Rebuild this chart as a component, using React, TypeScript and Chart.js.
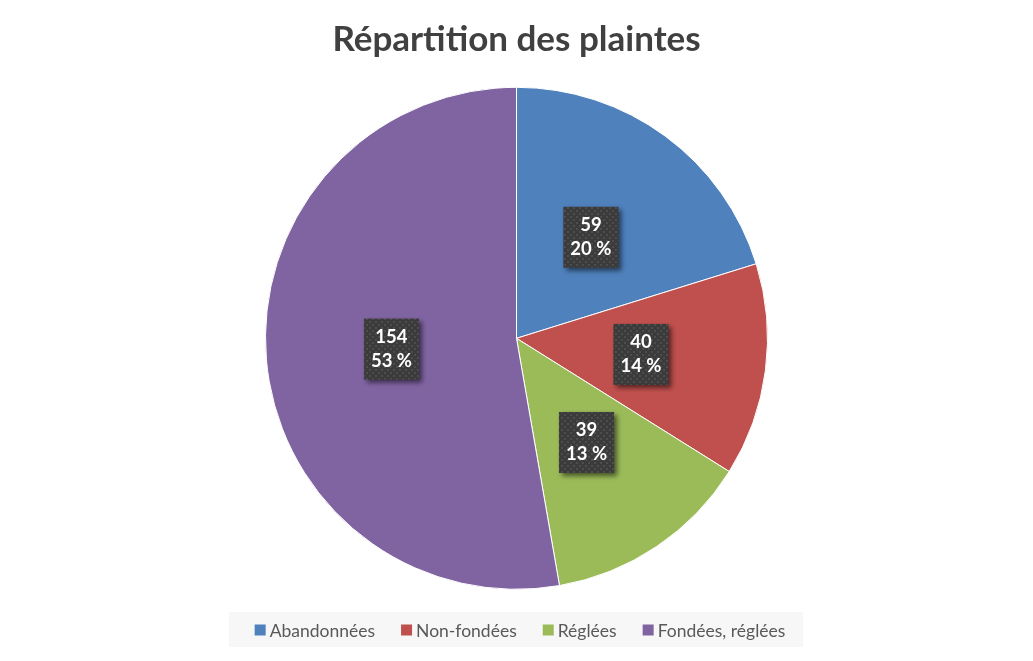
import React, { useEffect, useRef } from "react";
import { Chart, registerables } from "chart.js";

Chart.register(...registerables);

const title = "Répartition des plaintes";
const categories = ["Abandonnées", "Non-fondées", "Réglées", "Fondées, réglées"];
const values = [59, 40, 39, 154];
const colors = ["#4F81BD", "#C0504D", "#9BBB59", "#8064A2"];

const FONT = "Lato, 'Open Sans', sans-serif";

function makePattern(ctx: CanvasRenderingContext2D) {
  const c = document.createElement("canvas");
  c.width = 6;
  c.height = 6;
  const p = c.getContext("2d")!;
  p.fillStyle = "#3b3b3b";
  p.fillRect(0, 0, 6, 6);
  p.fillStyle = "#4d4d4d";
  p.fillRect(0, 0, 2, 2);
  p.fillRect(3, 3, 2, 2);
  return ctx.createPattern(c, "repeat") || "#3b3b3b";
}

const labelPlugin = {
  id: "boxLabels",
  afterDatasetsDraw(chart: any) {
    const ctx: CanvasRenderingContext2D = chart.ctx;
    const meta = chart.getDatasetMeta(0);
    const total = values.reduce((a, b) => a + b, 0);
    const pattern = makePattern(ctx);
    meta.data.forEach((arc: any, i: number) => {
      const pos = arc.tooltipPosition();
      const l1 = String(values[i]);
      const l2 = Math.round((values[i] / total) * 100) + " %";
      ctx.save();
      ctx.font = `bold 18.5px ${FONT}`;
      const w = Math.max(ctx.measureText(l1).width, ctx.measureText(l2).width) + 14;
      const h = 61;
      ctx.shadowColor = "rgba(0,0,0,0.55)";
      ctx.shadowBlur = 5;
      ctx.shadowOffsetX = 3;
      ctx.shadowOffsetY = 3;
      ctx.fillStyle = pattern as any;
      ctx.fillRect(pos.x - w / 2, pos.y - h / 2, w, h);
      ctx.shadowColor = "transparent";
      ctx.fillStyle = "#ffffff";
      ctx.textAlign = "center";
      ctx.textBaseline = "middle";
      ctx.fillText(l1, pos.x, pos.y - 12);
      ctx.fillText(l2, pos.x, pos.y + 12);
      ctx.restore();
    });
  },
};

const legendPlugin = {
  id: "customLegend",
  afterDraw(chart: any) {
    const ctx: CanvasRenderingContext2D = chart.ctx;
    ctx.save();
    ctx.font = `17.5px ${FONT}`;
    const box = 11;
    const boxGap = 4;
    const itemGap = 26;
    const widths = categories.map((c) => ctx.measureText(c).width);
    const total = widths.reduce((a, b) => a + b, 0) + categories.length * (box + boxGap) + (categories.length - 1) * itemGap;
    const cx = 520;
    const y = 630;
    let x = cx - total / 2;
    ctx.fillStyle = "#f7f7f7";
    ctx.fillRect(x - 26, 612, total + 44, 35);
    ctx.textBaseline = "middle";
    categories.forEach((c, i) => {
      ctx.fillStyle = colors[i];
      ctx.fillRect(x, y - box / 2, box, box);
      x += box + boxGap;
      ctx.fillStyle = "#595959";
      ctx.fillText(c, x, y + 1);
      x += widths[i] + itemGap;
    });
    ctx.restore();
  },
};

export default function App() {
  const ref = useRef<HTMLCanvasElement>(null);
  useEffect(() => {
    const chart = new Chart(ref.current!, {
      type: "pie",
      data: {
        labels: categories,
        datasets: [
          {
            data: values,
            backgroundColor: colors,
            borderColor: "#ffffff",
            borderWidth: 1,
          },
        ],
      },
      options: {
        animation: false,
        responsive: false,
        radius: 251,
        layout: { padding: { top: 0, bottom: 49, left: 0, right: 0 } },
        plugins: {
          legend: { display: false },
          tooltip: { enabled: false },
          title: {
            display: true,
            text: title,
            color: "#404040",
            font: { family: FONT, size: 35, weight: "bold" },
            padding: { top: 19, bottom: 3.6 },
          },
        },
      } as any,
      plugins: [labelPlugin, legendPlugin],
    });
    return () => chart.destroy();
  }, []);
  return (
    <div style={{ position: "fixed", left: 0, top: 0, width: 1033, height: 661, background: "#fff" }}>
      <canvas ref={ref} width={1033} height={661} />
    </div>
  );
}
